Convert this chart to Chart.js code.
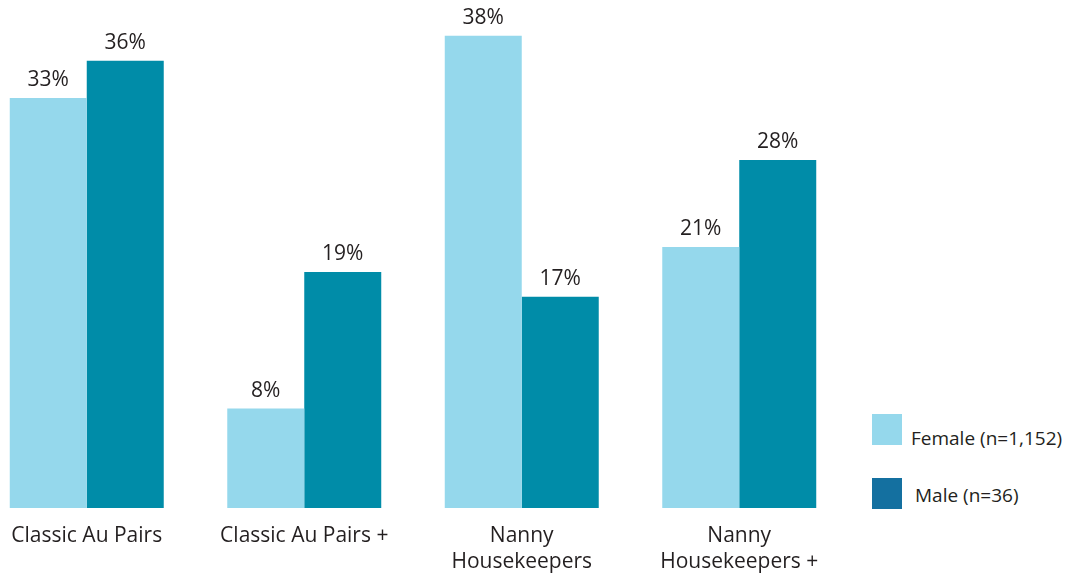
<!DOCTYPE html>
<html>
<head>
<meta charset="utf-8">
<script src="https://cdn.jsdelivr.net/npm/chart.js@4.4.1/dist/chart.umd.min.js"></script>
<style>
  body { margin: 0; background: #fff; overflow: hidden; }
  .wrap { position: relative; width: 1065px; height: 574px; overflow: hidden; }
  .chartBox { position: absolute; left: -22px; top: 0; width: 870px; height: 590px; }
  .legend { position: absolute; left: 872px; top: 414px; font-family: "Open Sans", sans-serif; font-size: 19px; line-height: 26px; color: #231f20; }
  .legend .item { position: absolute; left: 0; white-space: nowrap; }
  .legend .swatch { position: absolute; left: 0; width: 30px; height: 31px; }
  .legend .text { position: absolute; left: 39px; }
</style>
</head>
<body>
<div class="wrap">
  <div class="chartBox"><canvas id="myChart"></canvas></div>
  <div class="legend">
    <div class="item" style="top:0"><div class="swatch female"></div><div class="text femaleText" style="top:11px"></div></div>
    <div class="item" style="top:64px"><div class="swatch male"></div><div class="text maleText" style="left:43px; top:4px"></div></div>
  </div>
</div>
<script>
const categories = [
  "Classic Au Pairs",
  "Classic Au Pairs +",
  ["Nanny", "Housekeepers"],
  ["Nanny", "Housekeepers +"],
];
const femaleValues = [33, 8, 38, 21];
const maleValues = [36, 19, 17, 28];
const seriesNames = ["Female (n=1,152)", "Male (n=36)"];

const femaleColor = "#95d8ec";
const maleColor = "#008ca8";
const maleLegendColor = "#1470a0";
const textColor = "#231f20";

document.querySelector(".female").style.backgroundColor = femaleColor;
document.querySelector(".male").style.backgroundColor = maleLegendColor;
document.querySelector(".femaleText").textContent = seriesNames[0];
document.querySelector(".maleText").textContent = seriesNames[1];

// percent labels above each bar
const valueLabels = {
  id: "valueLabels",
  afterDatasetsDraw(chart) {
    const ctx = chart.ctx;
    ctx.save();
    ctx.font = "21px 'Open Sans', sans-serif";
    ctx.fillStyle = textColor;
    ctx.textAlign = "center";
    ctx.textBaseline = "alphabetic";
    chart.data.datasets.forEach((dataset, i) => {
      chart.getDatasetMeta(i).data.forEach((bar, j) => {
        ctx.fillText(dataset.data[j] + "%", bar.x, bar.y - 12);
      });
    });
    ctx.restore();
  },
};

const ctx = document.getElementById("myChart").getContext("2d");

const myChart = new Chart(ctx, {
  type: "bar",
  data: {
    labels: categories,
    datasets: [
      {
        label: seriesNames[0],
        data: femaleValues,
        backgroundColor: femaleColor,
        categoryPercentage: 0.708,
        barPercentage: 1,
      },
      {
        label: seriesNames[1],
        data: maleValues,
        backgroundColor: maleColor,
        categoryPercentage: 0.708,
        barPercentage: 1,
      },
    ],
  },
  options: {
    responsive: true,
    maintainAspectRatio: false,
    animation: false,
    layout: { padding: { top: 11, bottom: 0, left: 0, right: 0 } },
    plugins: {
      legend: { display: false },
      tooltip: { enabled: false },
    },
    scales: {
      x: {
        grid: { display: false, drawTicks: false },
        border: { display: false },
        ticks: {
          color: textColor,
          padding: 15,
          maxRotation: 0,
          autoSkip: false,
          font: { family: "'Open Sans', sans-serif", size: 21, lineHeight: 1.24 },
        },
      },
      y: {
        display: false,
        min: 0,
        max: 40,
      },
    },
  },
  plugins: [valueLabels],
});
</script>
</body>
</html>
